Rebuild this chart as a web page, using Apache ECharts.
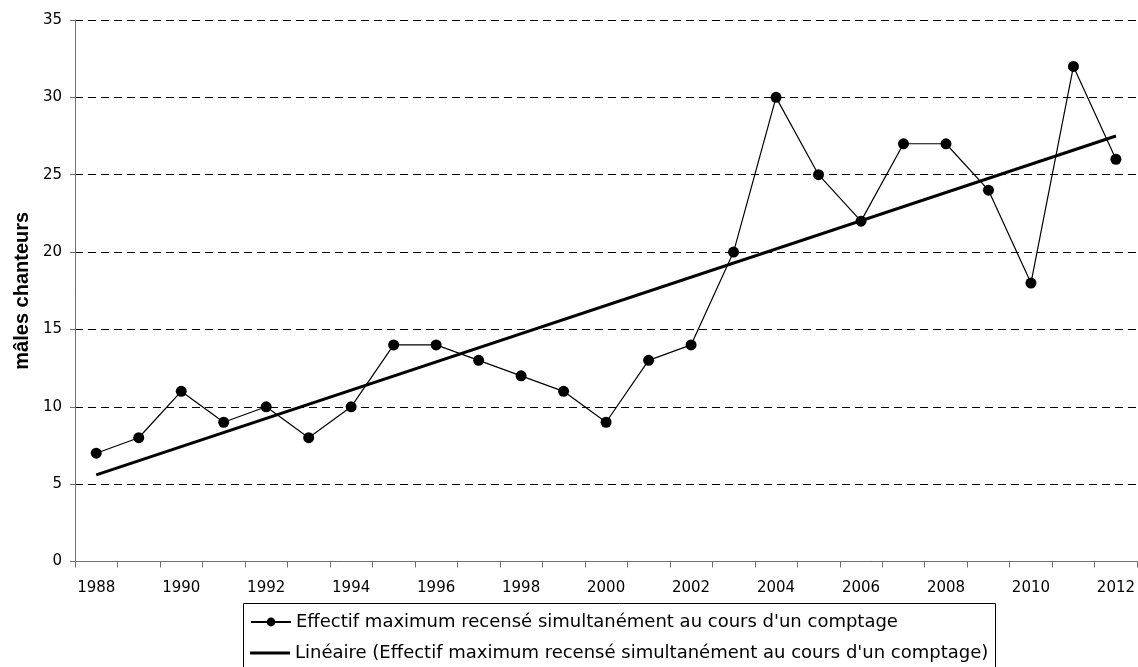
<!DOCTYPE html>
<html>
<head>
<meta charset="utf-8">
<script src="https://cdn.jsdelivr.net/npm/echarts@6/dist/echarts.min.js"></script>
<style>
html,body{margin:0;padding:0;background:#fff;}
#chart{width:1138px;height:667px;}
</style>
</head>
<body>
<div id="chart"></div>
<script>
var years = ['1988','1989','1990','1991','1992','1993','1994','1995','1996','1997','1998','1999','2000','2001','2002','2003','2004','2005','2006','2007','2008','2009','2010','2011','2012'];
var maleCounts = [7,8,11,9,10,8,10,14,14,13,12,11,9,13,14,20,30,25,22,27,27,24,18,32,26];
var trendYears = ['1988','2012'];
var trendValues = [5.6,27.5];
var seriesNames = ["Effectif maximum recensé simultanément au cours d'un comptage", "Linéaire (Effectif maximum recensé simultanément au cours d'un comptage)"];
var yAxisTitle = 'mâles chanteurs';

var chart = echarts.init(document.getElementById('chart'));
var font = 'DejaVu Sans';
var legendText = {color: '#000', fontFamily: font, fontSize: 18};
chart.setOption({
  animation: false,
  backgroundColor: '#fff',
  grid: {left: 75, right: 0, top: 20, bottom: 105.5, containLabel: false},
  graphic: [{
    type: 'rect',
    left: 243, top: 603,
    shape: {width: 752, height: 80},
    style: {fill: '#fff', stroke: '#000', lineWidth: 1},
    z: 0
  }],
  xAxis: {
    type: 'category',
    data: years,
    boundaryGap: true,
    axisLine: {show: true, lineStyle: {color: '#707070', width: 1}},
    axisTick: {show: true, interval: 0, length: 6, lineStyle: {color: '#707070'}},
    axisLabel: {interval: 1, color: '#000', fontFamily: font, fontSize: 15, margin: 19},
    splitLine: {show: false}
  },
  yAxis: {
    type: 'value',
    min: 0, max: 35, interval: 5,
    name: yAxisTitle,
    nameLocation: 'middle',
    nameGap: 41,
    nameRotate: 90,
    nameTextStyle: {color: '#000', fontFamily: 'Liberation Sans', fontWeight: 'bold', fontSize: 20},
    axisLine: {show: true, lineStyle: {color: '#707070', width: 1}},
    axisTick: {show: true, length: 5, lineStyle: {color: '#707070'}},
    axisLabel: {color: '#000', fontFamily: font, fontSize: 15, margin: 13},
    splitLine: {show: true, lineStyle: {color: '#000', type: [8, 5], width: 1}}
  },
  legend: [
    {
      orient: 'horizontal',
      left: 250, top: 613,
      padding: 0,
      itemWidth: 40, itemHeight: 11,
      itemGap: 0,
      textStyle: legendText,
      data: [seriesNames[0]],
      z: 5
    },
    {
      orient: 'horizontal',
      left: 250, top: 644,
      padding: 0,
      itemWidth: 40, itemHeight: 3,
      itemGap: 0,
      textStyle: legendText,
      data: [{name: seriesNames[1], icon: 'rect'}],
      z: 5
    }
  ],
  series: [
    {
      name: seriesNames[0],
      type: 'line',
      data: maleCounts,
      symbol: 'circle',
      symbolSize: 11,
      showAllSymbol: true,
      itemStyle: {color: '#000'},
      lineStyle: {color: '#000', width: 1.2},
      z: 2
    },
    {
      name: seriesNames[1],
      type: 'line',
      data: trendYears.map(function (y, i) { return [y, trendValues[i]]; }),
      symbol: 'none',
      itemStyle: {color: '#000'},
      lineStyle: {color: '#000', width: 3},
      z: 3
    }
  ]
});
</script>
</body>
</html>
